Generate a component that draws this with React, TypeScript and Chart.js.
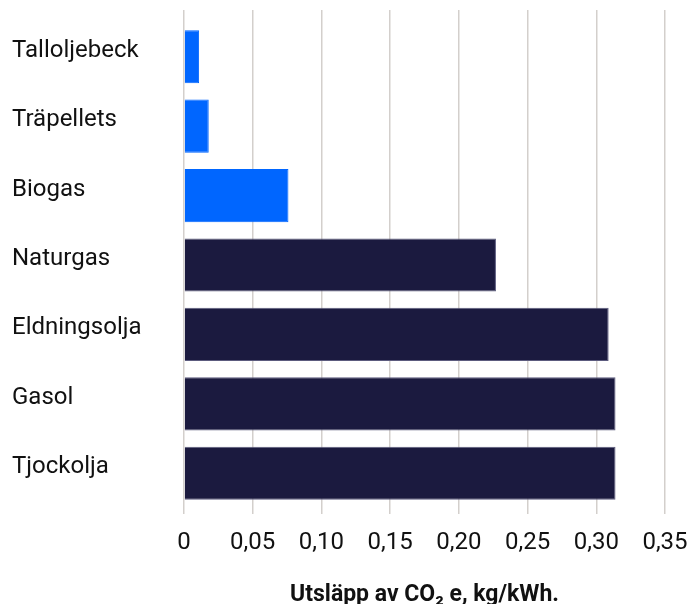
import React, { useEffect, useRef } from "react";
import { Chart, registerables } from "chart.js";

Chart.register(...registerables);

const categories = ["Talloljebeck", "Träpellets", "Biogas", "Naturgas", "Eldningsolja", "Gasol", "Tjockolja"];
const emissions = [0.011, 0.018, 0.076, 0.227, 0.309, 0.314, 0.314];
const barColors = ["#0066ff", "#0066ff", "#0066ff", "#1b1a3f", "#1b1a3f", "#1b1a3f", "#1b1a3f"];
const borderColors = ["#0066ff", "#0066ff", "#0066ff", "#5c5b7e", "#5c5b7e", "#5c5b7e", "#5c5b7e"];
const xTickLabels = ["0", "0,05", "0,10", "0,15", "0,20", "0,25", "0,30", "0,35"];
const axisTitle = "Utsläpp av CO₂ e, kg/kWh.";

export default function App() {
  const ref = useRef<HTMLCanvasElement | null>(null);
  useEffect(() => {
    document.body.style.margin = "0";
    const canvas = ref.current;
    if (!canvas) return;
    const gridColor = "#d3cfcc";
    const chart = new Chart(canvas, {
      type: "bar",
      data: {
        labels: categories,
        datasets: [
          {
            data: emissions,
            backgroundColor: barColors,
            borderColor: borderColors,
            borderWidth: 1,
            barPercentage: 0.765,
            categoryPercentage: 1,
          },
        ],
      },
      options: {
        indexAxis: "y",
        animation: false,
        responsive: false,
        maintainAspectRatio: false,
        layout: { padding: { left: 12, top: 10, right: 23, bottom: 0 } },
        plugins: { legend: { display: false }, tooltip: { enabled: false } },
        scales: {
          x: {
            position: "bottom",
            min: 0,
            max: 0.35,
            ticks: {
              stepSize: 0.05,
              padding: 15,
              color: "#111111",
              font: { family: "Roboto", size: 24 },
              callback: (_v: any, i: number) => xTickLabels[i],
            },
            grid: { color: gridColor, lineWidth: 1.5, tickLength: 6, tickColor: gridColor },
            border: { display: false },
            title: {
              display: true,
              text: axisTitle,
              color: "#111111",
              font: { family: "Roboto", size: 23, weight: "bold" },
              padding: { top: 18, bottom: -5 },
            },
            afterFit: (s: any) => {
              s.height = 96;
              s.paddingRight = 0;
              s.paddingLeft = 0;
            },
          },
          x2: {
            position: "top",
            min: 0,
            max: 0.35,
            ticks: { display: false, stepSize: 0.05 },
            grid: { drawOnChartArea: false, color: gridColor, lineWidth: 1.5, tickLength: 12, tickColor: gridColor },
            border: { display: false },
            afterFit: (s: any) => {
              s.height = 12;
              s.paddingRight = 0;
              s.paddingLeft = 0;
            },
          },
          y: {
            ticks: {
              crossAlign: "far",
              labelOffset: -6,
              color: "#111111",
              font: { family: "Roboto", size: 24 },
            },
            grid: { display: false },
            border: { display: false },
            afterFit: (s: any) => {
              s.width = 172;
            },
          },
        },
      },
    });
    return () => chart.destroy();
  }, []);
  return <canvas ref={ref} width={688} height={604} style={{ display: "block" }} />;
}
